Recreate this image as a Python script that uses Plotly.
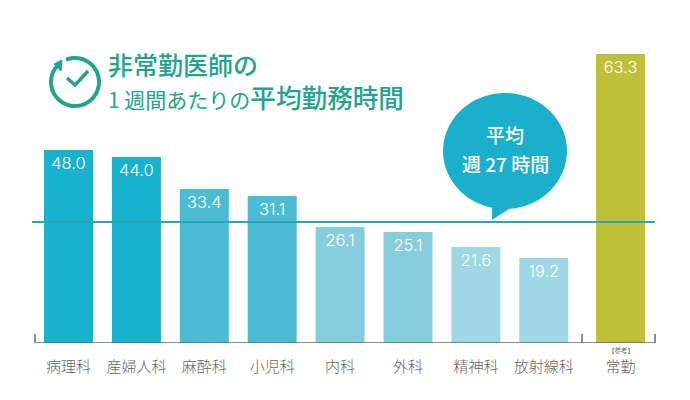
import numpy as np
import plotly.graph_objects as go

W, H = 690, 400
BASE = 343  # pixel row of the baseline

categories = ["病理科", "産婦人科", "麻酔科", "小児科", "内科", "外科", "精神科", "放射線科", "常勤"]
hours = [48.0, 44.0, 33.4, 31.1, 26.1, 25.1, 21.6, 19.2, 63.3]
# drawn bar heights, the original is not to scale
bar_heights = [193, 186, 154, 147, 116, 111, 96, 85, 289]
average_height = 121
bar_colors = ["#18b1ce", "#18b1ce", "#4bbcd3", "#4bbcd3", "#86cedc", "#86cedc", "#9dd8e4", "#9dd8e4", "#bfc038"]

TEAL = "#22a48c"
BLUE = "#1ab0cc"
JP = "Noto Sans CJK JP"

slots = [0, 1, 2, 3, 4, 5, 6, 7, 8.13]
slot_w = 67.9
x0 = 68.5


def to_x(px):
    return (px - x0) / slot_w


def to_y(py):
    return BASE - py


def path(points, close=False):
    s = "M" + " L".join(f"{to_x(a):.4f},{to_y(b):.2f}" for a, b in points)
    return s + (" Z" if close else "")


def arc(cx, cy, rx, ry, a0, a1, n=80):
    t = np.radians(np.linspace(a0, a1, n))
    return list(zip(cx + rx * np.cos(t), cy + ry * np.sin(t)))


fig = go.Figure(go.Bar(
    x=slots,
    y=bar_heights,
    width=49 / slot_w,
    marker=dict(color=bar_colors, line_width=0),
    text=[f"{v:.1f}" for v in hours],
    textposition="inside",
    insidetextanchor="end",
    textangle=0,
    constraintext="none",
    insidetextfont=dict(family="Inter", size=16.5, color="white", weight=300),
    hoverinfo="skip",
))

shapes = []
# baseline with end ticks
shapes.append(dict(type="path", path=path([(35, 334), (35, 343), (655, 343), (655, 334)]),
                   line=dict(color="#6a6a6a", width=1.5)))
shapes.append(dict(type="path", path=path([(582, 334), (582, 343)]),
                   line=dict(color="#6a6a6a", width=1.5)))
# average line
shapes.append(dict(type="line", x0=to_x(32), x1=to_x(655), y0=average_height, y1=average_height,
                   line=dict(color="#2ba6b8", width=2)))
# speech bubble
bubble = arc(505, 151, 62, 58, 102, 446) + [(492, 220)]
shapes.append(dict(type="path", path=path(bubble, close=True), fillcolor=BLUE, line_width=0))
# clock icon
shapes.append(dict(type="path", path=path(arc(75, 82, 24, 24, -112, 222)),
                   line=dict(color=TEAL, width=4)))
shapes.append(dict(type="path", path=path([(54, 64), (62, 60), (61, 71)], close=True),
                   fillcolor=TEAL, line=dict(color=TEAL, width=1)))
shapes.append(dict(type="path", path=path([(67, 78), (75, 85), (88, 71)]),
                   line=dict(color=TEAL, width=3.5)))

annotations = [
    dict(x=to_x(106), y=to_y(64), xanchor="left", yanchor="middle", showarrow=False,
         text="非常勤医師の", font=dict(family=JP, size=25, color=TEAL, weight=500)),
    dict(x=to_x(106), y=to_y(96), xanchor="left", yanchor="middle", showarrow=False,
         text="1 週間あたりの<span style='font-size:25.6px;font-weight:500'>平均勤務時間</span>",
         font=dict(family=JP, size=21, color=TEAL, weight=400)),
    dict(x=to_x(505), y=to_y(134), showarrow=False, text="平均",
         font=dict(family=JP, size=19, color="white", weight=500)),
    dict(x=to_x(505), y=to_y(163), showarrow=False, text="週 27 時間",
         font=dict(family=JP, size=19, color="white", weight=500)),
    dict(xref="paper", yref="paper", x=621 / W, y=(BASE - 350) / BASE, xanchor="center", yanchor="middle",
         showarrow=False, borderpad=0, text="【参考】", font=dict(family=JP, size=6.5, color="#666666")),
]

fig.update_layout(
    width=W, height=H,
    margin=dict(l=0, r=0, t=0, b=H - BASE),
    paper_bgcolor="white", plot_bgcolor="white",
    showlegend=False,
    shapes=shapes,
    annotations=annotations,
    xaxis=dict(range=[to_x(0), to_x(W)], tickmode="array", tickvals=slots, ticktext=categories,
               showgrid=False, zeroline=False, showline=False, ticks="",
               ticklabelstandoff=13, tickfont=dict(family=JP, size=15, color="#666666", weight=300)),
    yaxis=dict(range=[0, BASE], visible=False),
)

fig.write_html("out.html", config={"displayModeBar": False},
               post_script="document.body.style.margin='0';")
